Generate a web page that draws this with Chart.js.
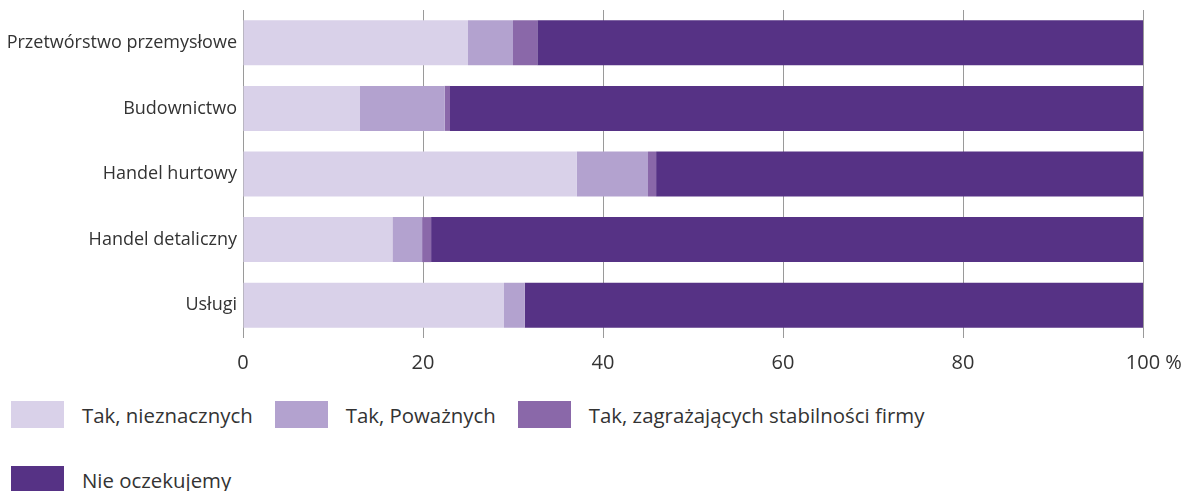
<!DOCTYPE html>
<html>
<head>
<meta charset="utf-8">
<script src="https://cdn.jsdelivr.net/npm/chart.js@4/dist/chart.umd.min.js"></script>
<style>
  body { margin: 0; background: #fff; font-family: "Open Sans", sans-serif; }
  #wrap { position: absolute; left: 0; top: 0; width: 1188px; height: 378px; }
  #legend { position: absolute; left: 11px; top: 401px; width: 1000px; display: flex; flex-wrap: wrap; row-gap: 38px; }
  .item { display: flex; align-items: center; margin-right: 22px; color: #333; font-size: 20.4px; height: 27px; }
  .box { width: 53px; height: 27px; margin-right: 18px; }
</style>
</head>
<body>
<div id="wrap"><canvas id="c"></canvas></div>
<div id="legend"></div>
<script>
// Data
const categories = ["Przetwórstwo przemysłowe", "Budownictwo", "Handel hurtowy", "Handel detaliczny", "Usługi"];
const seriesNames = ["Tak, nieznacznych", "Tak, Poważnych", "Tak, zagrażających stabilności firmy", "Nie oczekujemy"];
const minor = [25.0, 13.0, 37.1, 16.6, 29.0];
const serious = [5.0, 9.4, 7.9, 3.3, 2.3];
const threatening = [2.7, 0.6, 0.9, 1.0, 0.0];
const none = [67.3, 77.0, 54.1, 79.1, 68.7];
const tickLabels = ["0", "20", "40", "60", "80", "100"];
const unitSuffix = " %";
const colors = ["#d9d1e9", "#b3a2cf", "#8a68a9", "#563285"];

const values = [minor, serious, threatening, none];
const font = "'Open Sans', sans-serif";

// draws " %" after the last x tick label
const unitPlugin = {
  id: "unit",
  afterDraw(chart) {
    const sc = chart.scales.x;
    const ctx = chart.ctx;
    const f = sc.options.ticks.font;
    ctx.save();
    ctx.font = f.size + "px " + f.family;
    const last = tickLabels[tickLabels.length - 1];
    const w = ctx.measureText(last).width;
    const px = sc.getPixelForValue(100);
    const y = sc.top + sc.options.ticks.padding + f.size * 1.2 / 2;
    ctx.fillStyle = "#333";
    ctx.textAlign = "left";
    ctx.textBaseline = "middle";
    ctx.fillText(unitSuffix, px + w / 2, y);
    ctx.restore();
  }
};

const chart = new Chart(document.getElementById("c"), {
  type: "bar",
  data: {
    labels: categories,
    datasets: seriesNames.map((name, i) => ({
      label: name,
      data: values[i],
      backgroundColor: colors[i],
      borderWidth: 0,
      barPercentage: 0.686,
      categoryPercentage: 1
    }))
  },
  options: {
    indexAxis: "y",
    responsive: true,
    maintainAspectRatio: false,
    animation: false,
    layout: { padding: { top: 10, right: 45, left: 0, bottom: 0 } },
    plugins: { legend: { display: false }, tooltip: { enabled: false } },
    scales: {
      x: {
        stacked: true,
        min: 0,
        max: 100,
        ticks: {
          stepSize: 20,
          color: "#333",
          padding: 13,
          maxRotation: 0,
          font: { size: 20, family: font },
          callback: (v) => tickLabels[v / 20]
        },
        grid: { color: "#9a9a9a", drawTicks: false },
        border: { display: false },
        afterFit: (s) => { s.height = 40; }
      },
      y: {
        stacked: true,
        ticks: { color: "#333", padding: 6, font: { size: 18, family: font } },
        grid: { display: false, drawTicks: false },
        border: { display: false },
        afterFit: (s) => { s.width = 243; s.paddingTop = 0; s.paddingBottom = 0; }
      }
    }
  },
  plugins: [unitPlugin]
});

// Legend
const legend = document.getElementById("legend");
seriesNames.forEach((name, i) => {
  const it = document.createElement("div");
  it.className = "item";
  it.innerHTML = `<span class="box" style="background:${colors[i]}"></span><span>${name}</span>`;
  legend.appendChild(it);
});
</script>
</body>
</html>
